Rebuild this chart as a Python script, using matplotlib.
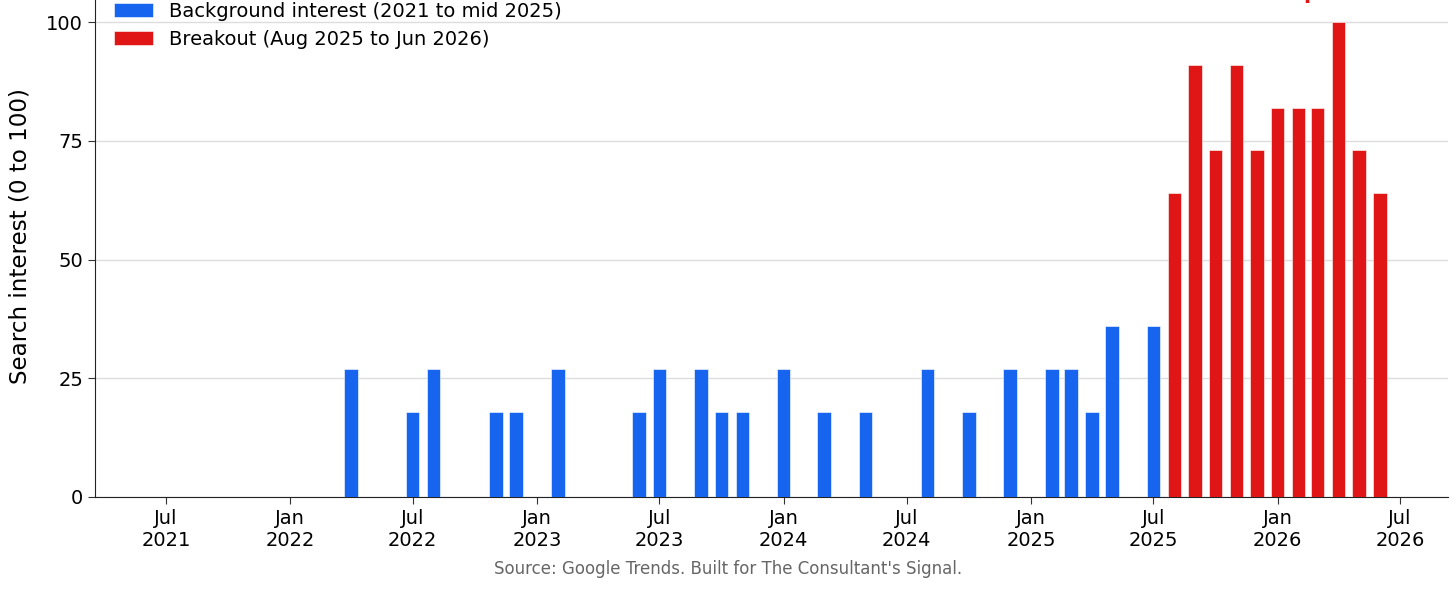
import matplotlib
matplotlib.use("Agg")
import matplotlib.pyplot as plt
import matplotlib.dates as mdates
from datetime import datetime, timedelta

plt.rcParams['font.family'] = ['DejaVu Sans']

bg_months = ["2022-04", "2022-07", "2022-08", "2022-11", "2022-12", "2023-02",
             "2023-06", "2023-07", "2023-09", "2023-10", "2023-11", "2024-01",
             "2024-03", "2024-05", "2024-08", "2024-10", "2024-12", "2025-02",
             "2025-03", "2025-04", "2025-05", "2025-07"]
bg_values = [27, 18, 27, 18, 18, 27,
             18, 27, 27, 18, 18, 27,
             18, 18, 27, 18, 27, 27,
             27, 18, 36, 36]

br_months = ["2025-08", "2025-09", "2025-10", "2025-11", "2025-12", "2026-01",
             "2026-02", "2026-03", "2026-04", "2026-05", "2026-06"]
br_values = [64, 91, 73, 91, 73, 82, 82, 82, 100, 73, 64]

tick_months = ["2021-07", "2022-01", "2022-07", "2023-01", "2023-07", "2024-01",
               "2024-07", "2025-01", "2025-07", "2026-01", "2026-07"]

def to_dt(m):
    return datetime.strptime(m + "-01", "%Y-%m-%d")

BLUE = "#1764EE"
RED = "#E01515"

fig = plt.figure(figsize=(14.56, 5.89), dpi=100)
W, H = 1456, 589
left_px, right_px, zero_px, hundred_px = 95, 1448, 497, 22
ymax = 110
px_per_unit = (zero_px - hundred_px) / 100.0
top_px = zero_px - ymax * px_per_unit
ax = fig.add_axes([left_px / W, (H - zero_px) / H, (right_px - left_px) / W,
                   (zero_px - top_px) / H])

bw = 20
ax.bar([to_dt(m) for m in bg_months], bg_values, width=bw, color=BLUE,
       edgecolor='white', linewidth=0.4,
       label="Background interest (2021 to mid 2025)", zorder=3)
ax.bar([to_dt(m) for m in br_months], br_values, width=bw, color=RED,
       edgecolor='white', linewidth=0.4,
       label="Breakout (Aug 2025 to Jun 2026)", zorder=3)

ax.set_ylim(0, ymax)
ax.set_yticks([0, 25, 50, 75, 100])
ax.set_xlim(datetime(2021, 3, 18), datetime(2026, 9, 10))
ax.set_xticks([to_dt(m) for m in tick_months])
ax.xaxis.set_major_formatter(mdates.DateFormatter("%b\n%Y"))
ax.tick_params(axis='both', labelsize=14, length=5, color='#333333')
ax.grid(axis='y', color='#dddddd', linewidth=1, zorder=0)
ax.set_axisbelow(True)
for s in ['top', 'right']:
    ax.spines[s].set_visible(False)
for s in ['left', 'bottom']:
    ax.spines[s].set_color('#222222')
ax.set_ylabel("Search interest (0 to 100)", fontsize=16.6, labelpad=11)

ax.legend(loc='upper left', frameon=False, fontsize=14, bbox_to_anchor=(0.0, 0.985),
          handlelength=2.0, borderaxespad=0.6, labelspacing=0.45)

ax.text(datetime(2026, 2, 8), 104.9, "peak", color=RED,
        fontsize=15, fontweight='bold', ha='left', va='baseline', clip_on=False)

fig.text(0.5, 1 - 569 / H, "Source: Google Trends. Built for The Consultant's Signal.",
         ha='center', va='center', fontsize=12, color='#666666')

fig.savefig("out.png", dpi=100)
